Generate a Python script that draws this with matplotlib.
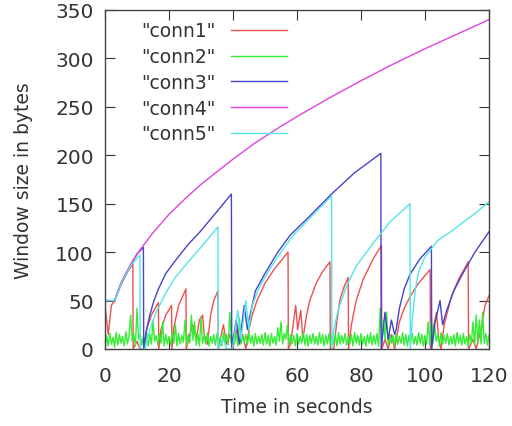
import numpy as np
import matplotlib
matplotlib.use("Agg")
import matplotlib.pyplot as plt

# ---- data ----
conn1_t = [0, 1, 2, 3, 5, 7, 8.7, 8.8, 10, 11, 12, 13, 14.5, 16.7, 16.8, 17.5, 19, 20.8, 20.9, 21.5, 23, 25.3,
           25.4, 26.5, 27.5, 28.5, 29.5, 30.5, 31, 32, 33, 34, 35.3, 35.4, 36, 37, 38, 39, 40, 41, 42, 43, 44,
           45, 46, 47.5, 50, 53, 57.2, 57.3, 58, 59.6, 60.2, 61.2, 61.8, 63, 64, 66, 68, 70.3, 70.4, 71.5,
           72.5, 73.5, 74.8, 76, 76.1, 77, 78.5, 80.7, 83.8, 86.4, 86.5, 87.5, 88.5, 89.5, 90.5, 92, 93.5,
           95.5, 98, 101.6, 101.7, 102.5, 103.6, 104.3, 105, 106, 108.3, 110.5, 113.5, 113.6, 115, 116,
           117.5, 118.75, 120]
conn1_v = [45, 15, 45, 50, 66, 79, 88, 0, 8, 0, 0, 20, 35, 48, 0, 20, 35, 45, 0, 22, 45, 62,
           0, 15, 25, 10, 30, 35, 15, 5, 35, 50, 60, 0, 10, 25, 5, 15, 0, 20, 8, 15, 0,
           20, 35, 50, 68, 83, 100, 0, 5, 45, 20, 40, 10, 35, 50, 68, 80, 90, 0, 0,
           30, 52, 65, 74, 0, 25, 50, 72, 93, 107, 0, 10, 0, 15, 0, 28, 42,
           55, 68, 82, 0, 20, 38, 10, 0, 25, 55, 72, 90, 0, 10, 0,
           20, 45, 55]

conn2_v = [0, 14, 3, 16, 5, 12, 2, 17, 4, 15, 6, 13, 3, 18, 5, 14, 35, 8, 15, 3,
           42, 10, 16, 4, 13, 6, 17, 3, 15, 5, 30, 8, 14, 4, 16, 6, 28, 3, 15, 5,
           13, 4, 17, 6, 25, 3, 16, 5, 14, 7, 30, 4, 15, 6, 35, 9, 28, 4, 16, 3,
           32, 6, 14, 5, 17, 3, 13, 6, 15, 4, 16, 5, 12, 3, 17, 6, 15, 4, 38, 5,
           14, 6, 16, 3, 32, 5, 13, 7, 15, 4, 17, 6, 14, 3, 16, 5, 13, 6, 15, 4,
           17, 5, 14, 3, 16, 6, 13, 4, 22, 8, 28, 5, 16, 10, 25, 4, 15, 6, 14, 3,
           16, 5, 13, 6, 17, 4, 15, 3, 14, 6, 16, 5, 13, 4, 17, 6, 15, 3, 14, 5,
           16, 4, 13, 6, 15, 3, 17, 5, 14, 6, 16, 4, 13, 5, 15, 3, 17, 6, 14, 4,
           16, 5, 13, 3, 15, 6, 17, 4, 14, 5, 16, 3, 42, 6, 30, 10, 38, 4, 15, 6,
           14, 3, 16, 5, 13, 6, 17, 4, 15, 3, 14, 6, 16, 5, 13, 4, 17, 6, 15, 3,
           14, 5, 28, 4, 32, 6, 25, 8, 15, 3, 17, 5, 14, 6, 16, 4, 13, 5, 15, 3,
           17, 6, 14, 4, 16, 5, 13, 3, 15, 6, 28, 4, 35, 7, 30, 5, 38, 6, 16, 4, 14]
conn2_t = np.arange(len(conn2_v)) * 0.5

conn3_t = [0, 3, 5, 8, 10, 12, 12.1, 13, 14, 15.3, 16.7, 19, 22.4, 26, 29.7, 34.5, 39.5,
           39.6, 41, 42, 43.5, 44.5, 45, 47, 50, 54, 58, 63, 70.8, 78, 86.2,
           86.3, 87.5, 88.5, 89.5, 90.5, 91, 92, 93.5, 95.3, 98.4, 102,
           102.1, 103, 104.7, 105.5, 106.8, 109, 111.5, 115.6, 120]
conn3_v = [50, 50, 68, 87, 98, 105, 0, 20, 35, 50, 62, 78, 93, 108, 121, 140, 160,
           0, 30, 5, 45, 20, 30, 60, 78, 100, 118, 134, 160, 182, 202,
           0, 38, 10, 30, 15, 20, 42, 62, 77, 93, 106,
           0, 25, 50, 25, 40, 60, 76, 100, 121]

conn4_t = [0, 3, 4, 5, 6.5, 8, 10, 12, 15, 20, 25, 30, 35, 40, 47, 55, 60, 70, 80, 90, 100, 110, 120]
conn4_v = [50, 50, 60, 68, 78, 87, 98, 107, 120, 139, 155, 170, 183, 196, 213, 230, 240, 259, 277, 294, 310, 325, 340]

conn5_t = [0, 3, 5, 8, 10.9, 11, 12.5, 14, 16, 19, 22, 26, 29.7, 35.3,
           35.4, 37, 38, 39.8, 41.5, 42.5, 44, 45, 46, 48, 51, 55, 59, 64, 70.8,
           70.9, 71.5, 73, 75.5, 78.6, 84, 89, 95.3,
           95.4, 96, 97, 98, 100, 104, 108, 112, 116, 120]
conn5_v = [50, 50, 67, 86, 97, 0, 0, 20, 38, 58, 74, 90, 104, 126,
           0, 10, 0, 0, 40, 10, 50, 20, 45, 62, 80, 100, 118, 135, 158,
           0, 20, 42, 65, 86, 110, 131, 150,
           0, 30, 62, 80, 95, 112, 121, 131, 141, 152]

labels = ['"conn1"', '"conn2"', '"conn3"', '"conn4"', '"conn5"']
colors = ['#ee5050', '#33ee33', '#4444cc', '#dd44dd', '#55e5e5']
x_ticks = [0, 20, 40, 60, 80, 100, 120]
y_ticks = [0, 50, 100, 150, 200, 250, 300, 350]

plt.rcParams['font.family'] = ['DejaVu Sans']
fig = plt.figure(figsize=(5.12, 4.27), dpi=100)
ax = fig.add_axes([105 / 512, 1 - 350 / 427, 384 / 512, 339 / 427])

series = [(conn1_t, conn1_v), (conn2_t, conn2_v), (conn3_t, conn3_v),
          (conn4_t, conn4_v), (conn5_t, conn5_v)]
for (t, v), lab, c in zip(series, labels, colors):
    ax.plot(t, v, color=c, lw=1.0, label=lab)

ax.set_xlim(0, 120)
ax.set_ylim(0, 350)
ax.set_xticks(x_ticks)
ax.set_yticks(y_ticks)
ax.tick_params(direction='in', length=7, width=0.8, top=True, right=True,
               labelsize=14.5, colors='#333333')
ax.tick_params(axis='x', pad=12)
ax.tick_params(axis='y', pad=8)
for s in ax.spines.values():
    s.set_color('#444444')
    s.set_linewidth(1.0)

ax.set_xlabel('Time in seconds', fontsize=13.5, color='#333333', labelpad=9)
ax.set_ylabel('Window size in bytes', fontsize=13.5, color='#333333', labelpad=16)

leg = ax.legend(loc='upper left', bbox_to_anchor=(0.06, 1.005), frameon=False,
                markerfirst=False, fontsize=13.5, handlelength=3.0,
                labelspacing=0.36, borderaxespad=0.3, handletextpad=0.8)
for txt in leg.get_texts():
    txt.set_color('#333333')

fig.savefig('out.png', dpi=100)
